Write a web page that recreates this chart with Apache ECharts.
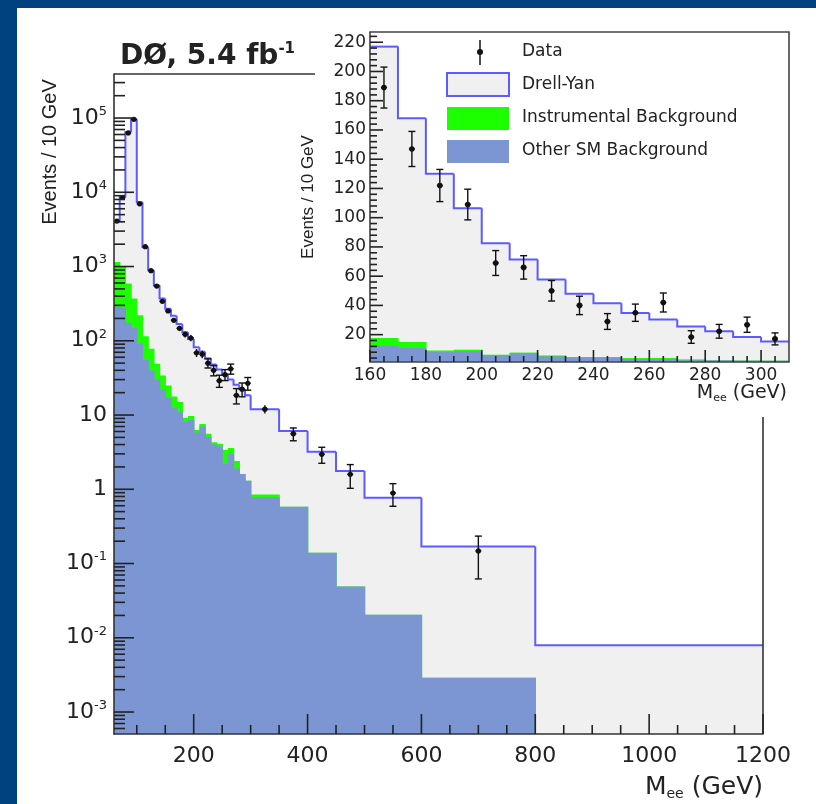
<!DOCTYPE html>
<html>
<head>
<meta charset="utf-8">
<script src="https://cdn.jsdelivr.net/npm/echarts@6/dist/echarts.min.js"></script>
<style>
html, body { margin: 0; padding: 0; background: #00427f; }
#paper { position: absolute; left: 17px; top: 8px; width: 799px; height: 796px; background: #fff; }
#main { position: absolute; left: 0; top: 0; width: 816px; height: 804px; }
</style>
</head>
<body>
<div id="paper"></div>
<div id="main"></div>
<script>
// main panel : bins (GeV), events / 10 GeV
var mainEdges = [60,70,80,90,100,110,120,130,140,150,160,170,180,190,200,210,220,230,240,250,260,270,280,290,300,350,400,450,500,600,800,1200];
var mainPrediction = [4000,8700,65000,96000,7400,1820,890,560,370,270,217,168,130,106,82,71,58,48,41,35,30,25.5,22.3,18.4,12,6.1,3.2,1.76,0.77,0.17,0.0079];
var mainOtherSM = [290,280,175,150,92,55,40,30,22,17,12.5,10.9,8.1,8.6,5.8,7.0,5.1,4.0,3.8,2.2,3.0,1.9,1.6,1.3,0.79,0.58,0.14,0.049,0.0205,0.0029,0];
var mainInstrumental = [860,720,415,220,128,60,38,19,12,8,5.2,4.1,1.1,1.1,0.5,0.6,0.5,0.3,0.3,1.2,0.6,0.5,0,0,0.06,0,0,0,0,0,0];
var mainDataMass = [65,75,85,95,105,115,125,135,145,155,165,175,185,195,205,215,225,235,245,255,265,275,285,295,325,375,425,475,550,700];
var mainDataEvents = [4100,8500,63000,96000,7000,1850,880,545,340,252,189,147,122,109,69,66,50,40,29,35,42,18.4,22.3,26.8,12,5.6,2.96,1.59,0.89,0.148];
var mainDataErr = [64,92,250,310,84,43,30,23,18,16,14,12,11,10.5,8.5,8,7,6.3,5.4,5.9,6.5,4.3,4.7,5.2,1.5,1.1,0.72,0.56,0.3,0.086];

// inset : 160-310 GeV, linear scale
var insetEdges = [160,170,180,190,200,210,220,230,240,250,260,270,280,290,300,310];
var insetPrediction = [217,168,130,106.5,82.5,71.4,57.7,47.9,41.4,34.8,30.3,25.5,22.3,18.4,15.4];
var insetOtherSM = [12.5,10.9,8.1,8.6,5.8,7.5,5.1,4.5,4.5,3.4,3.4,2.5,2.5,2.3,2.2];
var insetInstrumental = [5.2,4.1,1.1,1.1,0.5,0.2,0.7,0.1,0.1,0.6,0.7,0.6,0,0,0];
var insetDataMass = [165,175,185,195,205,215,225,235,245,255,265,275,285,295,305];
var insetDataEvents = [189,147,122,109,69,66,50,40,29,35,42,18.4,22.3,26.8,17.1];
var insetDataErr = [14,12,11,10.5,8.5,8,7,6.3,5.4,5.9,6.5,4.3,4.7,5.2,4.1];

// tick labels
var mainXTicks = [200,400,600,800,1000,1200];
var mainXMinor = [100,150,250,300,350,450,500,550,650,700,750,850,900,950,1050,1100,1150];
var mainYDecades = [-3,-2,-1,0,1,2,3,4,5];
var insetXTicks = [160,180,200,220,240,260,280,300];
var insetYTicks = [20,40,60,80,100,120,140,160,180,200,220];

var C_DY = '#f0f0f0', C_INSTR = '#1cff00', C_OTHER = '#7b96d2', C_LINE = '#5b5bff';
var FONT = 'DejaVu Sans';
var MAIN_X = [60, 1200], MAIN_Y = [-3.296, 5.593];
var INSET_X = [160, 310], INSET_Y = [1.3, 227];

var myChart = echarts.init(document.getElementById('main'));

function lg(v) { return Math.log10(v); }

// minor ticks of the log axis
var mainYMinor = [];
for (var d = -4; d <= 5; d++) {
    for (var k = 2; k <= 9; k++) {
        var t = lg(k) + d;
        if (t > MAIN_Y[0] && t < MAIN_Y[1]) mainYMinor.push(t);
    }
}
var insetXMinor = [], insetYMinor = [];
for (var m = 165; m < 310; m += 5) if (m % 20 !== 0) insetXMinor.push(m);
for (var n = 4; n < 227; n += 4) if (n % 20 !== 0) insetYMinor.push(n);

// stacked histogram fill (each bin a rect from the axis floor)
function histFill(name, edges, tops, color, log, gi, z) {
    var data = [];
    for (var i = 0; i < tops.length; i++) {
        if (tops[i] > 0) data.push([edges[i], edges[i + 1], log ? lg(tops[i]) : tops[i]]);
    }
    return {
        type: 'custom', name: name, xAxisIndex: gi, yAxisIndex: gi, z: z, clip: true, silent: true,
        encode: { x: [0, 1], y: 2 },
        renderItem: function (params, api) {
            var p0 = api.coord([api.value(0), api.value(2)]);
            var p1 = api.coord([api.value(1), api.value(2)]);
            var bottom = params.coordSys.y + params.coordSys.height;
            if (p0[1] >= bottom) return null;
            return {
                type: 'rect',
                shape: { x: p0[0], y: p0[1], width: p1[0] - p0[0] + 0.7, height: bottom - p0[1] },
                style: { fill: color }
            };
        },
        data: data
    };
}

// outline of the total prediction
function stepLine(edges, tops, log, gi) {
    var vals = tops.map(function (v) { return log ? lg(v) : v; });
    var data = vals.map(function (v, i) { return [edges[i], edges[i + 1], v, i > 0 ? vals[i - 1] : v]; });
    return {
        type: 'custom', xAxisIndex: gi, yAxisIndex: gi, z: 6, clip: true, silent: true,
        encode: { x: [0, 1], y: 2 },
        renderItem: function (params, api) {
            var a = api.coord([api.value(0), api.value(3)]);
            var b = api.coord([api.value(0), api.value(2)]);
            var c = api.coord([api.value(1), api.value(2)]);
            return {
                type: 'polyline',
                shape: { points: [a, b, c] },
                style: { stroke: C_LINE, lineWidth: 2, fill: null }
            };
        },
        data: data
    };
}

// data points with error bars
function dataPoints(mass, ev, err, log, gi, r) {
    var data = mass.map(function (x, i) {
        var lo = ev[i] - err[i], hi = ev[i] + err[i];
        return log ? [x, lg(ev[i]), lg(lo), lg(hi)] : [x, ev[i], lo, hi];
    });
    return {
        type: 'custom', name: 'Data', xAxisIndex: gi, yAxisIndex: gi, z: 8, silent: true,
        encode: { x: 0, y: 1 },
        renderItem: function (params, api) {
            var c = api.coord([api.value(0), api.value(1)]);
            var lo = api.coord([api.value(0), api.value(2)]);
            var hi = api.coord([api.value(0), api.value(3)]);
            var st = { stroke: '#111', lineWidth: 1.4 };
            var kids = [
                { type: 'line', shape: { x1: c[0], y1: lo[1], x2: c[0], y2: hi[1] }, style: st },
                { type: 'line', shape: { x1: c[0] - 3, y1: c[1], x2: c[0] + 3, y2: c[1] }, style: st },
                { type: 'circle', shape: { cx: c[0], cy: c[1], r: r }, style: { fill: '#111' } }
            ];
            if (lo[1] - hi[1] > 9) {
                kids.push({ type: 'line', shape: { x1: c[0] - 3.5, y1: lo[1], x2: c[0] + 3.5, y2: lo[1] }, style: st });
                kids.push({ type: 'line', shape: { x1: c[0] - 3.5, y1: hi[1], x2: c[0] + 3.5, y2: hi[1] }, style: st });
            }
            return { type: 'group', children: kids };
        },
        data: data
    };
}

function sum(a, b) { return a.map(function (v, i) { return v + b[i]; }); }
function plain(v) { return String(v); }

var axisLineStyle = { color: '#333', width: 1.6 };

var decorations = [
    // partial frame of the main panel
    { type: 'line', zlevel: 1, shape: { x1: 114, y1: 74, x2: 315, y2: 74 }, style: { stroke: '#333', lineWidth: 1.6 }, z: 20 },
    { type: 'line', zlevel: 1, shape: { x1: 763, y1: 417, x2: 763, y2: 734 }, style: { stroke: '#333', lineWidth: 1.6 }, z: 20 },
    // title
    { type: 'text', x: 120, y: 57, z: 20, style: {
        text: '{b|DØ, 5.4 fb}{s|-1}', verticalAlign: 'middle', textVerticalAlign: 'middle',
        rich: {
            b: { fontFamily: FONT, fontWeight: 'bold', fontSize: 28, fill: '#222', color: '#222', lineHeight: 30 },
            s: { fontFamily: FONT, fontWeight: 'bold', fontSize: 15, fill: '#222', color: '#222', verticalAlign: 'top', lineHeight: 16 }
        } } },
    // axis titles
    { type: 'text', x: 50, y: 152, rotation: Math.PI / 2, z: 20, style: {
        text: 'Events / 10 GeV', fontFamily: 'Liberation Sans', fontSize: 20, fill: '#222',
        align: 'center', textAlign: 'center', verticalAlign: 'middle', textVerticalAlign: 'middle' } },
    { type: 'text', x: 763, y: 787, z: 20, style: {
        text: '{m|M}{e|ee}{m| (GeV)}', align: 'right', textAlign: 'right', verticalAlign: 'middle', textVerticalAlign: 'middle',
        rich: {
            m: { fontFamily: FONT, fontSize: 25, color: '#222', fill: '#222', lineHeight: 28 },
            e: { fontFamily: FONT, fontSize: 14, color: '#222', fill: '#222', verticalAlign: 'bottom', lineHeight: 8 }
        } } },
    { type: 'text', x: 308, y: 197, rotation: Math.PI / 2, z: 20, style: {
        text: 'Events / 10 GeV', fontFamily: 'Liberation Sans', fontSize: 17, fill: '#222',
        align: 'center', textAlign: 'center', verticalAlign: 'middle', textVerticalAlign: 'middle' } },
    { type: 'text', x: 787, y: 393, z: 20, style: {
        text: '{m|M}{e|ee}{m| (GeV)}', align: 'right', textAlign: 'right', verticalAlign: 'middle', textVerticalAlign: 'middle',
        rich: {
            m: { fontFamily: FONT, fontSize: 19, color: '#222', fill: '#222', lineHeight: 22 },
            e: { fontFamily: FONT, fontSize: 11, color: '#222', fill: '#222', verticalAlign: 'bottom', lineHeight: 6 }
        } } },
    // legend of the inset
    { type: 'line', shape: { x1: 480, y1: 40, x2: 480, y2: 65 }, style: { stroke: '#111', lineWidth: 1.5 }, z: 20 },
    { type: 'circle', shape: { cx: 480, cy: 52, r: 3 }, style: { fill: '#111' }, z: 20 },
    { type: 'rect', shape: { x: 447, y: 73, width: 62, height: 23 }, style: { fill: C_DY, stroke: C_LINE, lineWidth: 2 }, z: 20 },
    { type: 'rect', shape: { x: 447, y: 107, width: 62, height: 23 }, style: { fill: C_INSTR }, z: 20 },
    { type: 'rect', shape: { x: 447, y: 140, width: 62, height: 23 }, style: { fill: C_OTHER }, z: 20 },
    { type: 'text', x: 522, y: 52, z: 20, style: { text: 'Data', fontFamily: FONT, fontSize: 17, fill: '#222', verticalAlign: 'middle', textVerticalAlign: 'middle' } },
    { type: 'text', x: 522, y: 85, z: 20, style: { text: 'Drell-Yan', fontFamily: FONT, fontSize: 17, fill: '#222', verticalAlign: 'middle', textVerticalAlign: 'middle' } },
    { type: 'text', x: 522, y: 118, z: 20, style: { text: 'Instrumental Background', fontFamily: FONT, fontSize: 17, fill: '#222', verticalAlign: 'middle', textVerticalAlign: 'middle' } },
    { type: 'text', x: 522, y: 151, z: 20, style: { text: 'Other SM Background', fontFamily: FONT, fontSize: 17, fill: '#222', verticalAlign: 'middle', textVerticalAlign: 'middle' } }
];

myChart.setOption({
    animation: false,
    grid: [
        { left: 114, top: 74, width: 649, height: 660 },
        { left: 370, top: 32, width: 419, height: 330, show: true, borderColor: '#444', borderWidth: 1.6, backgroundColor: 'transparent', zlevel: 1 }
    ],
    xAxis: [
        {   type: 'value', gridIndex: 0, min: MAIN_X[0], max: MAIN_X[1], zlevel: 1,
            splitLine: { show: false }, axisTick: { show: false },
            axisLine: { onZero: false, lineStyle: axisLineStyle },
            axisLabel: { customValues: mainXTicks, formatter: plain, margin: 11, color: '#222', fontFamily: FONT, fontSize: 22 } },
        {   type: 'value', gridIndex: 1, min: INSET_X[0], max: INSET_X[1], zlevel: 1,
            splitLine: { show: false }, axisTick: { show: false },
            axisLine: { show: false, onZero: false },
            axisLabel: { customValues: insetXTicks, formatter: plain, margin: 5, color: '#222', fontFamily: FONT, fontSize: 17 } }
    ],
    yAxis: [
        {   // log10 of events / 10 GeV
            type: 'value', gridIndex: 0, min: MAIN_Y[0], max: MAIN_Y[1], zlevel: 1,
            splitLine: { show: false }, axisTick: { show: false },
            axisLine: { onZero: false, lineStyle: axisLineStyle },
            axisLabel: {
                customValues: mainYDecades, margin: 7,
                formatter: function (v) {
                    if (v === 0) return '{n|1}';
                    if (v === 1) return '{n|10}';
                    return '{n|10}{s|' + v + '}';
                },
                rich: {
                    n: { fontFamily: FONT, fontSize: 22, color: '#222', lineHeight: 26 },
                    s: { fontFamily: FONT, fontSize: 13, color: '#222', verticalAlign: 'top', lineHeight: 14 }
                }
            } },
        {   type: 'value', gridIndex: 1, min: INSET_Y[0], max: INSET_Y[1], zlevel: 1,
            splitLine: { show: false }, axisTick: { show: false },
            axisLine: { show: false, onZero: false },
            axisLabel: { customValues: insetYTicks, formatter: plain, margin: 4, color: '#222', fontFamily: FONT, fontSize: 17 } }
    ],
    series: [
        histFill('Drell-Yan', mainEdges, mainPrediction, C_DY, true, 0, 2),
        histFill('Instrumental Background', mainEdges, sum(mainOtherSM, mainInstrumental), C_INSTR, true, 0, 3),
        histFill('Other SM Background', mainEdges, mainOtherSM, C_OTHER, true, 0, 4),
        stepLine(mainEdges, mainPrediction, true, 0),
        dataPoints(mainDataMass, mainDataEvents, mainDataErr, true, 0, 2.6),

        histFill('Drell-Yan', insetEdges, insetPrediction, C_DY, false, 1, 2),
        histFill('Instrumental Background', insetEdges, sum(insetOtherSM, insetInstrumental), C_INSTR, false, 1, 3),
        histFill('Other SM Background', insetEdges, insetOtherSM, C_OTHER, false, 1, 4),
        stepLine(insetEdges, insetPrediction, false, 1),
        dataPoints(insetDataMass, insetDataEvents, insetDataErr, false, 1, 2.8)
    ],
    graphic: decorations
});

// inward tick marks, positioned through each grid's own scales
var tickEls = [];
function addTicks(gi, dir, values, len, xr, yr) {
    values.forEach(function (v) {
        var p = myChart.convertToPixel({ gridIndex: gi }, dir === 'x' ? [v, yr[0]] : [xr[0], v]);
        if (!p) return;
        var shape = dir === 'x'
            ? { x1: p[0], y1: p[1], x2: p[0], y2: p[1] - len }
            : { x1: p[0], y1: p[1], x2: p[0] + len, y2: p[1] };
        tickEls.push({ type: 'line', zlevel: 1, z: 30, silent: true, shape: shape, style: { stroke: '#222', lineWidth: 1.6 } });
    });
}
addTicks(0, 'x', mainXTicks, 20, MAIN_X, MAIN_Y);
addTicks(0, 'x', mainXMinor, 9, MAIN_X, MAIN_Y);
addTicks(0, 'y', mainYDecades, 20, MAIN_X, MAIN_Y);
addTicks(0, 'y', mainYMinor, 11, MAIN_X, MAIN_Y);
addTicks(1, 'x', insetXTicks, 12, INSET_X, INSET_Y);
addTicks(1, 'x', insetXMinor, 6, INSET_X, INSET_Y);
addTicks(1, 'y', insetYTicks, 13, INSET_X, INSET_Y);
addTicks(1, 'y', insetYMinor, 7, INSET_X, INSET_Y);

myChart.setOption({ graphic: decorations.concat(tickEls) });
</script>
</body>
</html>
